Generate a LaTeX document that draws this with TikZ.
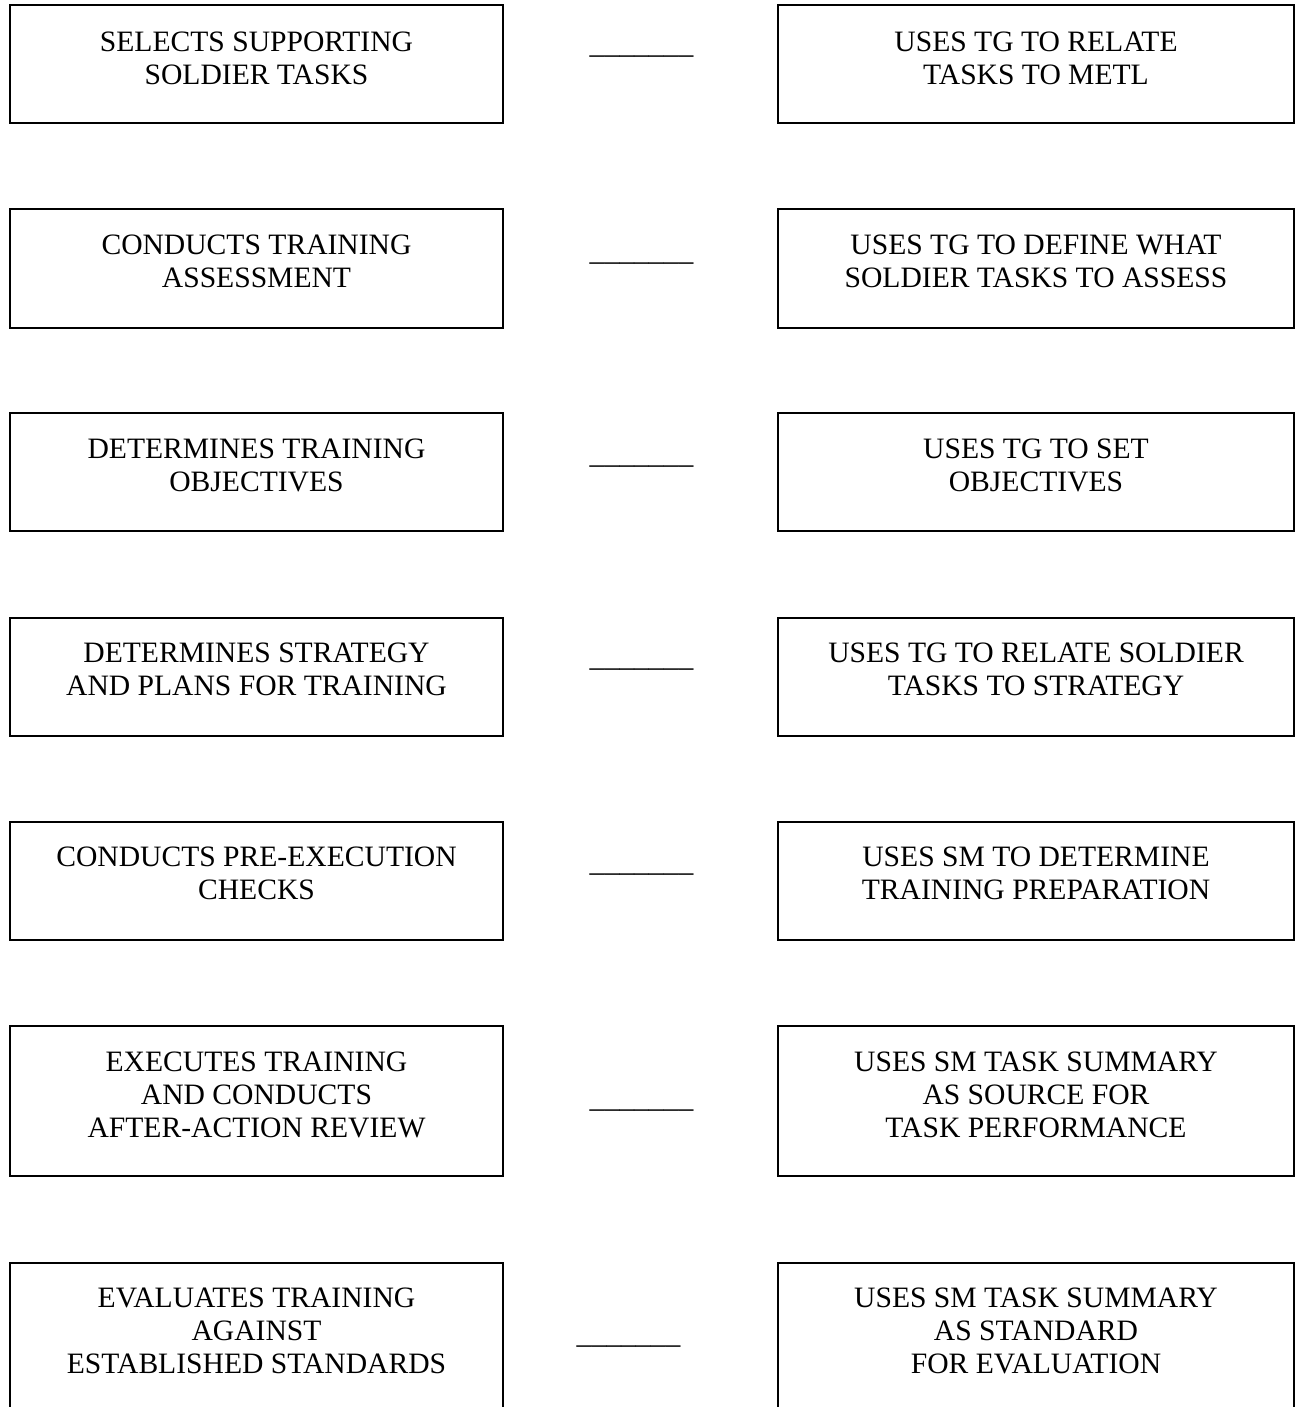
\documentclass[tikz,border=0pt]{standalone}
\usepackage{fontspec}
\setmainfont{Liberation Serif}
\begin{document}
\begin{tikzpicture}[
       x=0.5pt, y=-0.5pt,
       box_left/.style={draw, black, line width=1pt, minimum width=246.5pt, minimum height=59pt, inner sep=0pt}, % 左列方框
       box_right/.style={box_left, minimum width=258pt}, % 右列方框
       tall/.style={minimum height=75pt}, % 三行文字的方框
       label_text/.style={align=center, inner sep=0pt, font=\fontsize{14.8}{16.5}\selectfont}, % 方框内文字
       blank_line/.style={anchor=base, inner sep=0pt, font=\fontsize{14.8}{16.5}\selectfont} % 中间的下划线
   ]

   \useasboundingbox (0,0) rectangle (1296,1407);
   \clip (0,0) rectangle (1296,1407);

   % 1. 第一行
   \node[box_left] (selects) at (256.5,64) {};
   \node[label_text] (selects_t) at (256.5,58.5) {SELECTS SUPPORTING\\SOLDIER TASKS};
   \node[blank_line] (blank1) at (641.5,53.5) {\_\_\_\_\_\_\_};
   \node[box_right] (relate_metl) at (1036,64) {};
   \node[label_text] (relate_metl_t) at (1036,58.5) {USES TG TO RELATE\\TASKS TO METL};

   % 2. 第二行
   \node[box_left] (assessment) at (256.5,268.5) {};
   \node[label_text] (assessment_t) at (256.5,261.5) {CONDUCTS TRAINING\\ASSESSMENT};
   \node[blank_line] (blank2) at (641.5,260.5) {\_\_\_\_\_\_\_};
   \node[box_right] (define_tasks) at (1036,268.5) {};
   \node[label_text] (define_tasks_t) at (1036,261.5) {USES TG TO DEFINE WHAT\\SOLDIER TASKS TO ASSESS};

   % 3. 第三行
   \node[box_left] (objectives) at (256.5,472) {};
   \node[label_text] (objectives_t) at (256.5,465.5) {DETERMINES TRAINING\\OBJECTIVES};
   \node[blank_line] (blank3) at (641.5,463.5) {\_\_\_\_\_\_\_};
   \node[box_right] (set_objectives) at (1036,472) {};
   \node[label_text] (set_objectives_t) at (1036,465.5) {USES TG TO SET\\OBJECTIVES};

   % 4. 第四行
   \node[box_left] (strategy) at (256.5,676.5) {};
   \node[label_text] (strategy_t) at (256.5,669.5) {DETERMINES STRATEGY\\AND PLANS FOR TRAINING};
   \node[blank_line] (blank4) at (641.5,666.5) {\_\_\_\_\_\_\_};
   \node[box_right] (relate_strategy) at (1036,676.5) {};
   \node[label_text] (relate_strategy_t) at (1036,669.5) {USES TG TO RELATE SOLDIER\\TASKS TO STRATEGY};

   % 5. 第五行
   \node[box_left] (checks) at (256.5,881) {};
   \node[label_text] (checks_t) at (256.5,873.5) {CONDUCTS PRE-EXECUTION\\CHECKS};
   \node[blank_line] (blank5) at (641.5,871.5) {\_\_\_\_\_\_\_};
   \node[box_right] (preparation) at (1036,881) {};
   \node[label_text] (preparation_t) at (1036,873.5) {USES SM TO DETERMINE\\TRAINING PREPARATION};

   % 6. 第六行(三行文字)
   \node[box_left, tall] (executes) at (256.5,1101) {};
   \node[label_text] (executes_t) at (256.5,1095) {EXECUTES TRAINING\\AND CONDUCTS\\AFTER-ACTION REVIEW};
   \node[blank_line] (blank6) at (641.5,1107.5) {\_\_\_\_\_\_\_};
   \node[box_right, tall] (source) at (1036,1101) {};
   \node[label_text] (source_t) at (1036,1095) {USES SM TASK SUMMARY\\AS SOURCE FOR\\TASK PERFORMANCE};

   % 7. 第七行(方框下边超出画面)
   \node[box_left, tall] (evaluates) at (256.5,1338) {};
   \node[label_text] (evaluates_t) at (256.5,1331) {EVALUATES TRAINING\\AGAINST\\ESTABLISHED STANDARDS};
   \node[blank_line] (blank7) at (628.5,1343.5) {\_\_\_\_\_\_\_};
   \node[box_right, tall] (standard) at (1036,1338) {};
   \node[label_text] (standard_t) at (1036,1331) {USES SM TASK SUMMARY\\AS STANDARD\\FOR EVALUATION};

   \end{tikzpicture}
\end{document}
